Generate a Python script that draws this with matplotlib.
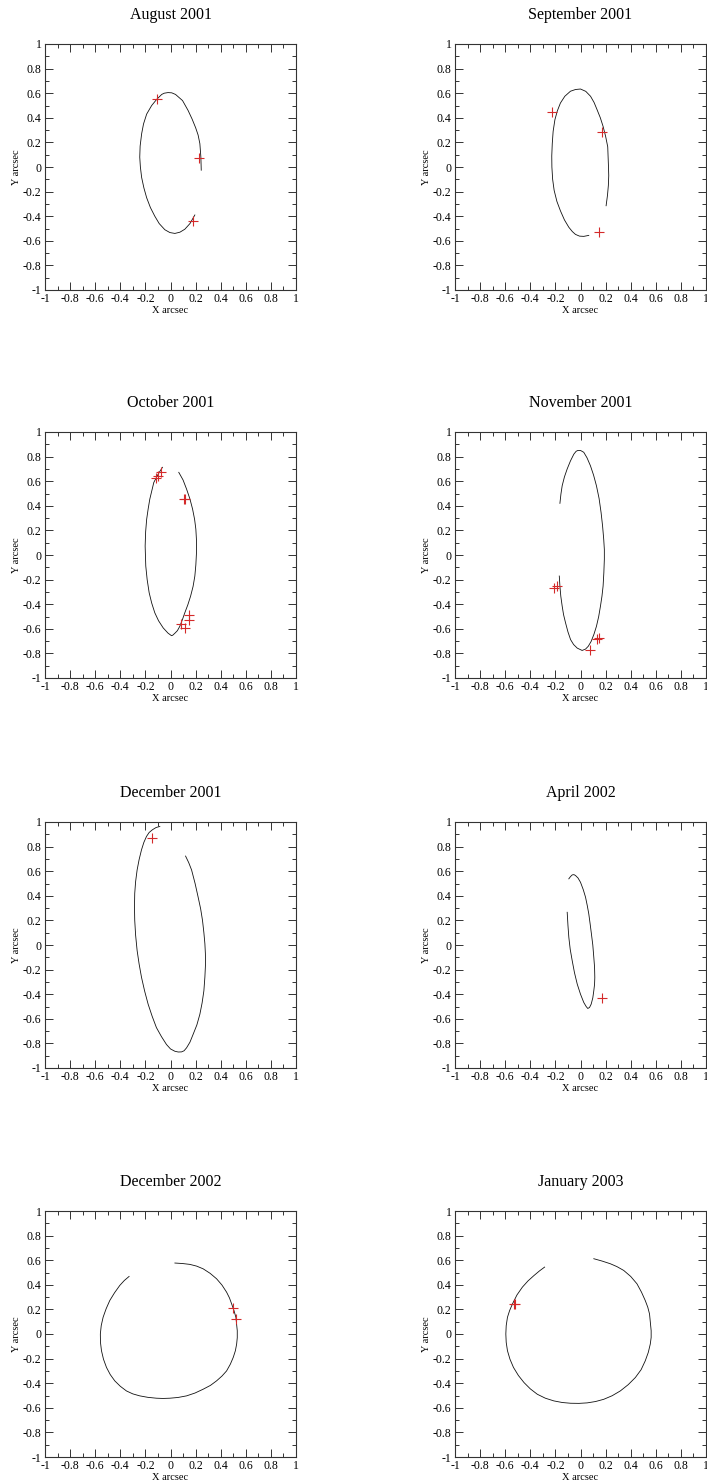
import matplotlib
matplotlib.use("Agg")
import matplotlib.pyplot as plt
from matplotlib.ticker import MultipleLocator, FuncFormatter

# ---------------- data ----------------
titles = ["August 2001", "September 2001", "October 2001", "November 2001",
          "December 2001", "April 2002", "December 2002", "January 2003"]

aug_x = [0.245, 0.242, 0.234, 0.22, 0.2, 0.172, 0.14, 0.096, 0.04, 0.01, -0.02, -0.05, -0.07,
         -0.11, -0.15, -0.19, -0.215, -0.23, -0.242, -0.245, -0.24, -0.23, -0.212, -0.19,
         -0.16, -0.125, -0.09, -0.045, -0.005, 0.035, 0.075, 0.114, 0.155, 0.194]
aug_y = [-0.026, 0.08, 0.19, 0.26, 0.32, 0.39, 0.46, 0.54, 0.59, 0.603, 0.605, 0.6, 0.59,
         0.55, 0.5, 0.43, 0.35, 0.27, 0.17, 0.08, 0.0, -0.085, -0.17, -0.25,
         -0.33, -0.40, -0.46, -0.51, -0.533, -0.54, -0.53, -0.506, -0.46, -0.39]
aug_px = [-0.11, 0.23, 0.18]
aug_py = [0.55, 0.07, -0.44]

sep_x = [0.204, 0.215, 0.222, 0.225, 0.223, 0.217, 0.2, 0.18, 0.158, 0.132, 0.108, 0.08, 0.042,
         0.0, -0.04, -0.08, -0.125, -0.16, -0.185, -0.204, -0.218, -0.225, -0.229, -0.228,
         -0.222, -0.21, -0.188, -0.16, -0.128, -0.093, -0.065, -0.04, -0.008, 0.026, 0.066]
sep_y = [-0.315, -0.23, -0.15, -0.07, 0.0, 0.164, 0.25, 0.33, 0.4, 0.466, 0.525, 0.575, 0.615,
         0.634, 0.63, 0.616, 0.575, 0.52, 0.455, 0.384, 0.29, 0.19, 0.09, 0.0,
         -0.1, -0.19, -0.28, -0.356, -0.43, -0.49, -0.525, -0.548, -0.562, -0.564, -0.556]
sep_px = [-0.23, 0.175, 0.148]
sep_py = [0.445, 0.285, -0.529]

oct_x = [0.066, 0.1, 0.128, 0.155, 0.176, 0.192, 0.202, 0.207, 0.207, 0.202, 0.194, 0.18, 0.16,
         0.138, 0.114, 0.094, 0.074, 0.055, 0.035, 0.018, 0.008, -0.02, -0.058, -0.095, -0.125,
         -0.15, -0.17, -0.186, -0.197, -0.202, -0.198, -0.19, -0.178, -0.165, -0.133, -0.098,
         -0.064]
oct_y = [0.672, 0.61, 0.536, 0.455, 0.373, 0.29, 0.21, 0.12, 0.019, -0.08, -0.171, -0.255, -0.335,
         -0.405, -0.47, -0.528, -0.58, -0.615, -0.636, -0.652, -0.656, -0.635, -0.593, -0.535,
         -0.47, -0.39, -0.307, -0.2, -0.09, 0.073, 0.19, 0.29, 0.375, 0.454, 0.59, 0.658,
         0.713]
oct_px = [-0.112, -0.096, -0.074, 0.104, 0.118, 0.08, 0.115, 0.145, 0.15]
oct_py = [0.623, 0.64, 0.678, 0.458, 0.452, -0.56, -0.593, -0.525, -0.49]

nov_x = [-0.164, -0.156, -0.146, -0.128, -0.106, -0.08, -0.053, -0.035, -0.021, 0.0, 0.026,
         0.052, 0.079, 0.104, 0.127, 0.148, 0.164, 0.176, 0.185, 0.19, 0.19, 0.186, 0.18,
         0.171, 0.159, 0.145, 0.127, 0.107, 0.085, 0.062, 0.04, 0.013, -0.026, -0.055, -0.079,
         -0.1, -0.119, -0.135, -0.146, -0.157, -0.164, -0.169]
nov_y = [0.42, 0.495, 0.563, 0.635, 0.70, 0.765, 0.82, 0.843, 0.85, 0.85, 0.835,
         0.79, 0.726, 0.65, 0.563, 0.46, 0.345, 0.235, 0.128, 0.045, -0.035, -0.145, -0.253,
         -0.335, -0.416, -0.5, -0.58, -0.645, -0.702, -0.742, -0.765, -0.776, -0.757, -0.728,
         -0.688, -0.625, -0.552, -0.485, -0.416, -0.335, -0.253, -0.171]
nov_px = [-0.21, -0.19, 0.075, 0.135, 0.15]
nov_py = [-0.27, -0.255, -0.776, -0.683, -0.678]

dec1_x = [0.12, 0.145, 0.168, 0.196, 0.22, 0.24, 0.255, 0.266, 0.274, 0.278, 0.279, 0.274, 0.266,
          0.252, 0.234, 0.21, 0.18, 0.155, 0.128, 0.108, 0.088, 0.062, 0.035, 0.0,
          -0.032, -0.072, -0.112, -0.146, -0.178, -0.206, -0.231, -0.25, -0.266, -0.278,
          -0.285, -0.287, -0.285, -0.278, -0.266, -0.25, -0.231, -0.212, -0.191, -0.17,
          -0.144, -0.115, -0.085]
dec1_y = [0.723, 0.67, 0.61, 0.5, 0.39, 0.295, 0.2, 0.1, 0.01, -0.07, -0.154, -0.26, -0.372,
          -0.47, -0.563, -0.65, -0.727, -0.79, -0.836, -0.86, -0.869, -0.87, -0.864, -0.845,
          -0.809, -0.745, -0.672, -0.58, -0.482, -0.375, -0.263, -0.155, -0.045, 0.08,
          0.2, 0.31, 0.42, 0.515, 0.61, 0.695, 0.774, 0.835, 0.883, 0.915,
          0.937, 0.955, 0.964]
dec1_px = [-0.149]
dec1_py = [0.869]

apr_x = [-0.106, -0.1, -0.093, -0.082, -0.066, -0.048, -0.026, 0.0, 0.026, 0.045, 0.058, 0.072,
         0.085, 0.098, 0.106, 0.112, 0.114, 0.112, 0.106, 0.098, 0.087, 0.077, 0.066, 0.054,
         0.04, 0.022, 0.0, -0.02, -0.04, -0.052, -0.066, -0.08, -0.093]
apr_y = [0.266, 0.16, 0.0625, -0.035, -0.128, -0.225, -0.318, -0.4, -0.467, -0.5, -0.516, -0.508,
         -0.481, -0.43, -0.372, -0.32, -0.264, -0.18, -0.1, 0.0, 0.09, 0.17, 0.253, 0.32,
         0.389, 0.45, 0.51, 0.545, 0.565, 0.572, 0.57, 0.556, 0.538]
apr_px = [0.172]
apr_py = [-0.432]

dec2_x = [-0.33, -0.368, -0.404, -0.446, -0.484, -0.513, -0.537, -0.552, -0.559, -0.558, -0.55,
          -0.534, -0.51, -0.48, -0.444, -0.4, -0.351, -0.3, -0.245, -0.18, -0.112, -0.06,
          -0.005, 0.06, 0.128, 0.195, 0.26, 0.318, 0.367, 0.41, 0.447, 0.477, 0.5, 0.517, 0.527,
          0.532, 0.532, 0.521, 0.506, 0.487, 0.47, 0.447, 0.41, 0.367, 0.316, 0.26, 0.208,
          0.154, 0.095, 0.035]
dec2_y = [0.468, 0.435, 0.395, 0.335, 0.272, 0.205, 0.136, 0.068, 0.0, -0.068, -0.136,
          -0.205, -0.272, -0.33, -0.381, -0.425, -0.463, -0.487, -0.503, -0.515, -0.522, -0.524,
          -0.522, -0.516, -0.503, -0.48, -0.449, -0.418, -0.381, -0.342, -0.3, -0.245, -0.19,
          -0.136, -0.082, -0.03, 0.027, 0.136, 0.19, 0.245, 0.293, 0.34, 0.398, 0.449,
          0.493, 0.53, 0.552, 0.566, 0.573, 0.577]
dec2_px = [0.5, 0.519]
dec2_py = [0.21, 0.122]

jan_x = [-0.286, -0.328, -0.37, -0.418, -0.463, -0.506, -0.542, -0.565, -0.582, -0.592, -0.595,
         -0.592, -0.582, -0.562, -0.534, -0.495, -0.45, -0.4, -0.344, -0.28, -0.212, -0.145,
         -0.079, -0.012, 0.053, 0.12, 0.185, 0.252, 0.317, 0.38, 0.437, 0.483, 0.516, 0.54,
         0.556, 0.563, 0.563, 0.55, 0.536, 0.516, 0.486, 0.45, 0.4, 0.344, 0.29, 0.238,
         0.172, 0.106]
jan_y = [0.544, 0.512, 0.476, 0.432, 0.381, 0.318, 0.245, 0.19, 0.136, 0.068, 0.0,
         -0.068, -0.136, -0.205, -0.272, -0.337, -0.395, -0.446, -0.49, -0.522, -0.544, -0.557,
         -0.563, -0.564, -0.56, -0.549, -0.531, -0.502, -0.463, -0.412, -0.354, -0.29, -0.218,
         -0.15, -0.082, -0.028, 0.027, 0.163, 0.218, 0.272, 0.34, 0.408, 0.468, 0.517, 0.548,
         0.571, 0.593, 0.612]
jan_px = [-0.53, -0.52]
jan_py = [0.24, 0.245]

curves = [(aug_x, aug_y, aug_px, aug_py), (sep_x, sep_y, sep_px, sep_py),
          (oct_x, oct_y, oct_px, oct_py), (nov_x, nov_y, nov_px, nov_py),
          (dec1_x, dec1_y, dec1_px, dec1_py), (apr_x, apr_y, apr_px, apr_py),
          (dec2_x, dec2_y, dec2_px, dec2_py), (jan_x, jan_y, jan_px, jan_py)]

# ---------------- layout ----------------
W, H = 707, 1483
plt.rcParams['font.family'] = ['Liberation Serif', 'DejaVu Serif']
plt.rcParams['axes.unicode_minus'] = False

fig = plt.figure(figsize=(W / 100, H / 100), dpi=100)
fig.patch.set_facecolor('white')

col_left = [45, 455]
row_top = [44, 432, 822, 1211]
aw, ah = 251, 246

fmt = FuncFormatter(lambda v, p: ('%g' % round(v, 3)).replace('\u2212', '-'))

for i, (title, (cx, cy, px, py)) in enumerate(zip(titles, curves)):
    r, c = divmod(i, 2)
    left = col_left[c]
    top = row_top[r]
    ax = fig.add_axes([left / W, 1 - (top + ah) / H, aw / W, ah / H])
    ax.plot(cx, cy, color='#111111', lw=0.6, solid_joinstyle='round')
    ax.plot(px, py, linestyle='none', marker='+', color='#d42a2a',
            markersize=7, markeredgewidth=0.8, zorder=5)
    ax.set_xlim(-1, 1)
    ax.set_ylim(-1, 1)
    ax.xaxis.set_major_locator(MultipleLocator(0.2))
    ax.yaxis.set_major_locator(MultipleLocator(0.2))
    ax.xaxis.set_minor_locator(MultipleLocator(0.1))
    ax.yaxis.set_minor_locator(MultipleLocator(0.1))
    ax.xaxis.set_major_formatter(fmt)
    ax.yaxis.set_major_formatter(fmt)
    ax.tick_params(which='both', direction='in', top=True, right=True,
                   labelsize=8.5, width=0.7, color='#333333', pad=2.5)
    ax.tick_params(which='major', length=6)
    ax.tick_params(which='minor', length=3)
    for s in ax.spines.values():
        s.set_linewidth(0.8)
        s.set_color('#333333')
    ax.set_xlabel('X arcsec', fontsize=7.5, labelpad=0.5)
    ax.set_ylabel('Y arcsec', fontsize=7.5, labelpad=1)
    ax.text(0.5, 1 + 29 / ah, title, transform=ax.transAxes, ha='center',
            va='center', fontsize=11.5)

fig.savefig('out.png', dpi=100, facecolor='white')
